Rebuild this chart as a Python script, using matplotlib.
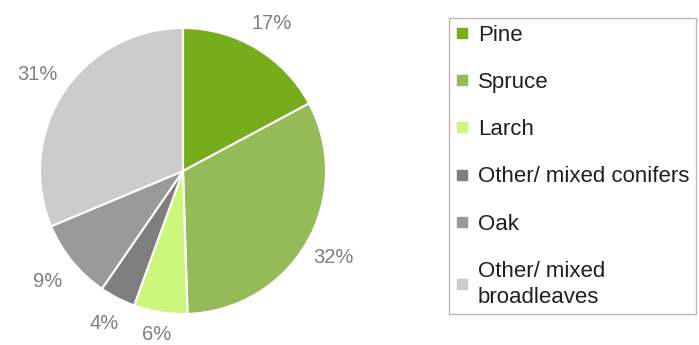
import numpy as np
import matplotlib
matplotlib.use("Agg")
import matplotlib.pyplot as plt
from matplotlib.lines import Line2D

plt.rcParams['font.family'] = ['Liberation Sans', 'DejaVu Sans']

species = ["Pine", "Spruce", "Larch", "Other/ mixed conifers", "Oak",
           "Other/ mixed\nbroadleaves"]
shares = [17, 32, 6, 4, 9, 31]
colors = ["#77ad1c", "#95bb59", "#ccf77c", "#7f7f7f", "#9a9a9a", "#cccccc"]
# radial distance of each percentage label, in pie radii
label_radius = [1.20, 1.215, 1.16, 1.2, 1.22, 1.22]

W, H = 699, 345
fig = plt.figure(figsize=(W / 100, H / 100), dpi=100)

# pie occupies a square box centred at (183, 171) px with radius 143 px
cx, cy, r = 183, 171, 143
ax = fig.add_axes([(cx - r) / W, (H - cy - r) / H, 2 * r / W, 2 * r / H])

wedges, _ = ax.pie(
    shares, colors=colors, startangle=90, counterclock=False, radius=1.0,
    wedgeprops=dict(edgecolor="white", linewidth=1.5),
)
for w, v, d in zip(wedges, shares, label_radius):
    mid = np.deg2rad((w.theta1 + w.theta2) / 2)
    ax.text(d * np.cos(mid), d * np.sin(mid), f"{v}%", ha="center",
            va="center", color="#7f7f7f", fontsize=14.5, clip_on=False)
ax.set_xlim(-1, 1)
ax.set_ylim(-1, 1)
ax.set_aspect("equal")
ax.axis("off")

handles = [Line2D([], [], marker="s", linestyle="none", markersize=7.5,
                  markerfacecolor=c, markeredgecolor=c) for c in colors]
leg = fig.legend(
    handles, species, loc="upper left",
    bbox_to_anchor=(449 / W, 1 - 18 / H), bbox_transform=fig.transFigure,
    frameon=True, fancybox=False, edgecolor="#a6a6a6", fontsize=16,
    handlelength=0.55, handletextpad=0.45, labelspacing=1.18,
    borderpad=0.3, borderaxespad=0.0,
)
leg.get_frame().set_linewidth(1.0)
for t in leg.get_texts():
    t.set_color("#1f1f1f")
    t.set_linespacing(1.3)

fig.savefig("out.png", dpi=100)
